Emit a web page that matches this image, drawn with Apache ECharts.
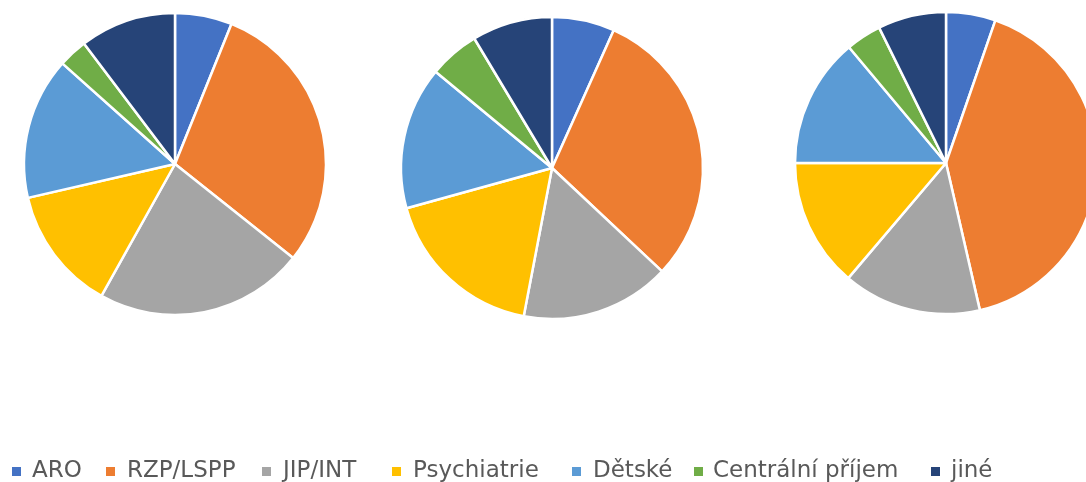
<!DOCTYPE html>
<html>
<head>
<meta charset="utf-8">
<script src="https://cdn.jsdelivr.net/npm/echarts@6/dist/echarts.min.js"></script>
<style>
  html, body { margin: 0; padding: 0; background: #fff; }
  #chart { width: 1086px; height: 482px; }
</style>
</head>
<body>
<div id="chart"></div>
<script>
// categories and shares (%)
var categories = ['ARO', 'RZP/LSPP', 'JIP/INT', 'Psychiatrie', 'Dětské', 'Centrální příjem', 'jiné'];
var pie1Values = [6.1, 29.6, 22.4, 13.3, 15.2, 3.1, 10.3];
var pie2Values = [6.7, 30.3, 16.0, 17.7, 15.3, 5.4, 8.6];
var pie3Values = [5.3, 41.1, 14.8, 13.8, 13.9, 3.8, 7.3];

var colors = ['#4472C4', '#ED7D31', '#A5A5A5', '#FFC000', '#5B9BD5', '#70AD47', '#264478'];

// layout of each legend entry (icon x, extra text offset)
var legendLeft = [10, 104, 260, 390, 570, 692, 929];
var legendPad = [5, 6, 6, 6, 6, 4, 5];

var dom = document.getElementById('chart');
var myChart = echarts.init(dom, null, { renderer: 'canvas' });

function pieData(values) {
    return categories.map(function (c, i) {
        return { name: c, value: values[i] };
    });
}

function pieSeries(values, cx, cy) {
    return {
        type: 'pie',
        center: [cx, cy],
        radius: 151,
        startAngle: 90,
        clockwise: true,
        label: { show: false },
        labelLine: { show: false },
        emphasis: { disabled: true },
        itemStyle: { borderColor: '#fff', borderWidth: 2.5 },
        data: pieData(values)
    };
}

var legends = categories.map(function (c, i) {
    return {
        left: legendLeft[i],
        top: 460,
        padding: 0,
        itemWidth: 11,
        itemHeight: 11,
        icon: 'rect',
        data: [c],
        textStyle: {
            fontFamily: 'DejaVu Sans',
            fontSize: 23,
            color: '#595959',
            padding: [0, 0, 0, legendPad[i]]
        }
    };
});

var option = {
    animation: false,
    color: colors,
    legend: legends,
    series: [
        pieSeries(pie1Values, 175, 164),
        pieSeries(pie2Values, 552, 168),
        pieSeries(pie3Values, 946, 163)
    ]
};

myChart.setOption(option, true);
</script>
</body>
</html>
